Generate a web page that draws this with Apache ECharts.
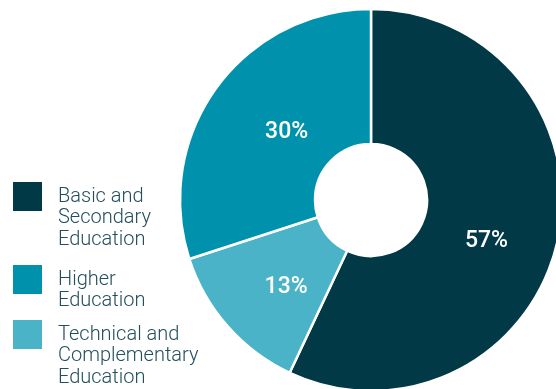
<!DOCTYPE html>
<html>
<head>
<meta charset="utf-8">
<style>
  html, body { margin: 0; padding: 0; background: #ffffff; }
  #chart { width: 556px; height: 389px; }
</style>
<script src="https://cdn.jsdelivr.net/npm/echarts@6/dist/echarts.min.js"></script>
</head>
<body>
<div id="chart"></div>
<script>
// Share of spending by education level (percent), listed clockwise from 12 o'clock
const categories = [
  'Basic and Secondary Education',
  'Technical and Complementary Education',
  'Higher Education'
];
const shares = [57, 13, 30];

// Legend order and the wrapped text shown for each entry
const legendOrder = [
  'Basic and Secondary Education',
  'Higher Education',
  'Technical and Complementary Education'
];
const legendLines = {
  'Basic and Secondary Education': ['Basic and', 'Secondary', 'Education'],
  'Higher Education': ['Higher', 'Education'],
  'Technical and Complementary Education': ['Technical and', 'Complementary', 'Education']
};

// Styling
const sliceColors = {
  'Basic and Secondary Education': '#013947',
  'Technical and Complementary Education': '#4ab3c7',
  'Higher Education': '#0092ac'
};
const labelShift = {
  'Basic and Secondary Education': [-8, 14],
  'Technical and Complementary Education': [10, 4],
  'Higher Education': [18, 7]
};
const legendTops = [181, 264, 319];   // top edge of each colour swatch
const LINE_H = 21.5;
const SWATCH = 31;

const chart = echarts.init(document.getElementById('chart'), null, { renderer: 'canvas' });

// One legend block per entry; leading blank lines keep the first text line level with the swatch
const legends = legendOrder.map((name, i) => {
  const n = legendLines[name].length;
  const blockH = (2 * n - 1) * LINE_H;
  const rise = Math.max(0, blockH / 2 - SWATCH / 2);
  return {
    orient: 'vertical',
    left: 11,
    top: legendTops[i] - rise,
    padding: 0,
    itemGap: 0,
    itemWidth: SWATCH,
    itemHeight: SWATCH,
    icon: 'rect',
    selectedMode: false,
    formatter: nm => '\n'.repeat(legendLines[nm].length - 1) + legendLines[nm].join('\n'),
    textStyle: {
      fontFamily: 'Roboto',
      fontWeight: 300,
      fontSize: 20,
      lineHeight: LINE_H,
      color: '#234f5c',
      padding: [0, 0, 0, 10]
    },
    data: [{ name: name, itemStyle: { color: sliceColors[name] } }]
  };
});

chart.setOption({
  animation: false,
  backgroundColor: '#ffffff',
  legend: legends,
  series: [{
    type: 'pie',
    center: [371, 200],
    radius: [56, 191],
    startAngle: 90,
    clockwise: true,
    avoidLabelOverlap: false,
    itemStyle: { borderColor: '#ffffff', borderWidth: 2.5 },
    label: {
      show: true,
      position: 'inside',
      formatter: '{c}%',
      color: '#ffffff',
      fontFamily: 'Roboto',
      fontWeight: 500,
      fontSize: 23
    },
    labelLine: { show: false },
    emphasis: { disabled: true },
    data: categories.map((name, i) => ({
      name: name,
      value: shares[i],
      itemStyle: { color: sliceColors[name] },
      label: { offset: labelShift[name] }
    }))
  }]
});
</script>
</body>
</html>
